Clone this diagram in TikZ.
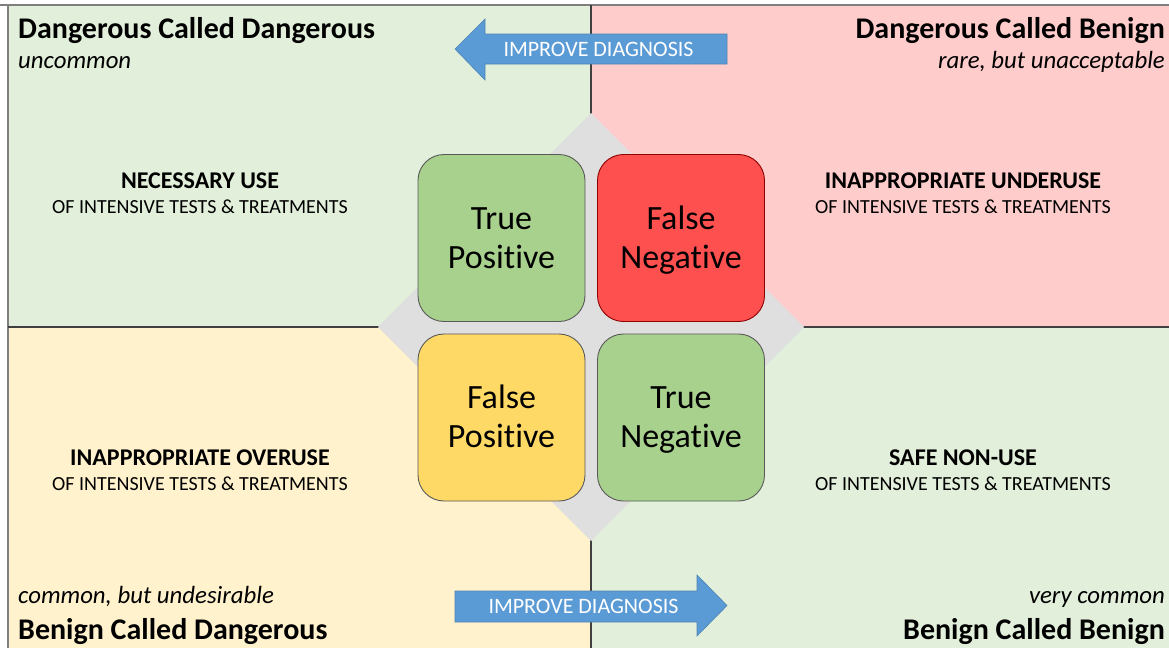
\documentclass[tikz,border=0pt]{standalone}
\usepackage{fontspec}
\setmainfont{Carlito}[Ligatures=NoCommon]
\definecolor{dgreen}{HTML}{E2EFDA}
\definecolor{dpink}{HTML}{FFCCCC}
\definecolor{dcream}{HTML}{FFF2CC}
\definecolor{diag}{HTML}{DFDFDF}
\definecolor{tpgreen}{HTML}{A9D18E}
\definecolor{fnred}{HTML}{FF5050}
\definecolor{fpyellow}{HTML}{FFD966}
\definecolor{arrowblue}{HTML}{5B9BD5}
\definecolor{frame}{HTML}{7F7F7F}
\definecolor{midline}{HTML}{404040}
% fixed line heights so every outcome label sits at the same place
\newcommand{\toprow}{\rule{0pt}{33.3pt}}
\newcommand{\botrow}{\rule[-11.7pt]{0pt}{11.7pt}}
\begin{document}
\begin{tikzpicture}[x=1pt,y=-1pt,
  title/.style={font=\fontsize{30}{36}\selectfont\bfseries, inner sep=0pt, anchor=base west},
  sub/.style={font=\fontsize{24.8}{28}\selectfont\itshape, inner sep=0pt, anchor=base west},
  usehead/.style={font=\fontsize{24}{28}\selectfont\bfseries, inner sep=0pt, anchor=base},
  usesub/.style={font=\fontsize{20}{24}\selectfont, inner sep=0pt, anchor=base},
  outcome/.style={draw=black!65, line width=0.9pt, rounded corners=26pt,
    minimum width=167pt, minimum height=167pt, inner sep=0pt, align=center,
    font=\fontsize{34}{39}\selectfont},
  arrowlabel/.style={font=\fontsize{22}{26}\selectfont, text=white, inner sep=0pt},
  arrowbody/.style={fill=arrowblue, draw=arrowblue!85!black, line width=0.6pt}
]
\useasboundingbox (0,0) rectangle (1169,648);

% quadrant backgrounds
\fill[dgreen]  (8,5) rectangle (591,327);
\fill[dpink]   (591,5) rectangle (1169,327);
\fill[dcream]  (8,327) rectangle (591,648);
\fill[dgreen]  (591,327) rectangle (1169,648);

% outer frame
\draw[frame, line width=2pt] (0,5) -- (1169,5);
\draw[frame, line width=2pt] (8,5) -- (8,648);

% dividing lines
\draw[midline, line width=1.4pt] (591,5) -- (591,648);
\draw[midline, line width=1.4pt] (8,327) -- (1169,327);

% grey diamond behind the outcome boxes
\fill[diag] (591,113) -- (804,327) -- (591,541) -- (378,327) -- cycle;

% outcome boxes
\node[outcome, fill=tpgreen]  (tp) at (501.5,238) {\toprow True\\\botrow Positive};
\node[outcome, fill=fnred, draw=red!55!black] (fn) at (681,238) {\toprow False\\\botrow Negat\kern0pt ive};
\node[outcome, fill=fpyellow] (fp) at (501.5,417.5) {\toprow False\\\botrow Positive};
\node[outcome, fill=tpgreen]  (tn) at (681,417.5) {\toprow True\\\botrow Negat\kern0pt ive};

% corner titles
\node[title] (tl) at (18,38) {Dangerous Called Dangerous};
\node[sub]   (tls) at (18,68.5) {uncommon};
\node[title, anchor=base east] (tr) at (1165,38) {Dangerous Called Benign};
\node[sub, anchor=base east]   (trs) at (1165,68.5) {rare, but unacceptable};
\node[sub]   (bls) at (18,603.5) {common, but undesirable};
\node[title] (bl) at (18,639) {Benign Called Dangerous};
\node[sub, anchor=base east]   (brs) at (1165,603.5) {very common};
\node[title, anchor=base east] (br) at (1165,639) {Benign Called Benign};

% usage labels
\node[usehead] (nu) at (200,188) {NECESSARY USE};
\node[usesub]  (nus) at (200,213) {OF INTENSIVE TESTS \& TREATMENTS};
\node[usehead] (iu) at (963,188) {INAPPROPRIATE UNDERUSE};
\node[usesub]  (ius) at (963,213) {OF INTENSIVE TESTS \& TREATMENTS};
\node[usehead] (io) at (200,465) {INAPPROPRIATE OVERUSE};
\node[usesub]  (ios) at (200,490) {OF INTENSIVE TESTS \& TREATMENTS};
\node[usehead] (sn) at (963,465) {SAFE NON-USE};
\node[usesub]  (sns) at (963,490) {OF INTENSIVE TESTS \& TREATMENTS};

% improve-diagnosis arrows
\draw[arrowbody] (727,34) -- (485,34) -- (485,19) -- (455,49) -- (485,80) -- (485,64) -- (727,64) -- cycle;
\node[arrowlabel] (ta) at (598.5,49) {IMPROVE DIAGNOSIS};
\draw[arrowbody] (455,591) -- (697,591) -- (697,575) -- (727,605.5) -- (697,636) -- (697,622) -- (455,622) -- cycle;
\node[arrowlabel] (ba) at (583.5,606) {IMPROVE DIAGNOSIS};
\end{tikzpicture}
\end{document}
